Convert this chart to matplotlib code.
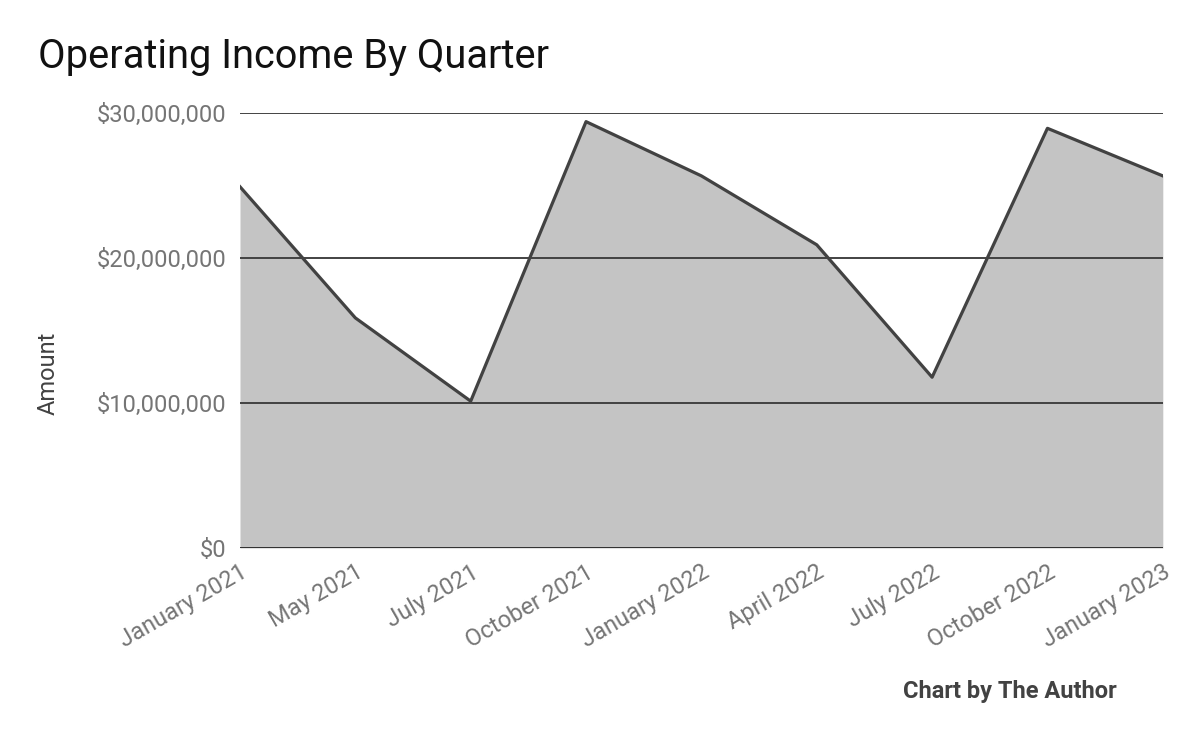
import matplotlib.pyplot as plt
import matplotlib.ticker as mticker
import numpy as np

# data
quarters = ['January 2021', 'May 2021', 'July 2021', 'October 2021', 'January 2022',
            'April 2022', 'July 2022', 'October 2022', 'January 2023']
operating_income = [24.9e6, 15.86e6, 10.12e6, 29.39e6, 25.65e6,
                    20.9e6, 11.77e6, 28.93e6, 25.65e6]
y_ticks = [0, 10e6, 20e6, 30e6]

plt.rcParams['font.family'] = ['Roboto', 'DejaVu Sans']

fig = plt.figure(figsize=(12, 7.42), dpi=100)
ax = fig.add_axes([0.2, 0.2615, 0.769, 0.5865])

x = np.arange(len(quarters))
ax.fill_between(x, operating_income, 0, color='#c4c4c4', linewidth=0, zorder=1)
ax.plot(x, operating_income, color='#424242', linewidth=2.3, zorder=3)

ax.set_xlim(0, len(quarters) - 1)
ax.set_ylim(0, 30e6)
ax.set_yticks(y_ticks)
ax.yaxis.set_major_formatter(mticker.FuncFormatter(lambda v, p: f'${v:,.0f}'))
ax.grid(axis='y', color='#424242', linewidth=1.4, zorder=2)
ax.axhline(0, color='#333333', linewidth=2, zorder=4)
ax.set_axisbelow(False)

for s in ax.spines.values():
    s.set_visible(False)

ax.set_xticks(x)
ax.set_xticklabels(quarters, rotation=30, ha='right', rotation_mode='anchor')
ax.tick_params(axis='both', length=0, labelsize=17, labelcolor='#757575')
ax.tick_params(axis='x', pad=9)
ax.tick_params(axis='y', pad=10)

# axis title sits a little below the middle of the plot, like the original
fig.text(0.04, 0.497, 'Amount', fontsize=17, color='#424242', rotation=90,
         ha='center', va='center')

fig.text(0.032, 0.924, 'Operating Income By Quarter', fontsize=28.7, color='#111111',
         ha='left', va='center')
fig.text(0.931, 0.068, 'Chart by The Author', fontsize=17, fontweight='bold',
         color='#424242', ha='right', va='center')

fig.savefig('out.png', dpi=100)
